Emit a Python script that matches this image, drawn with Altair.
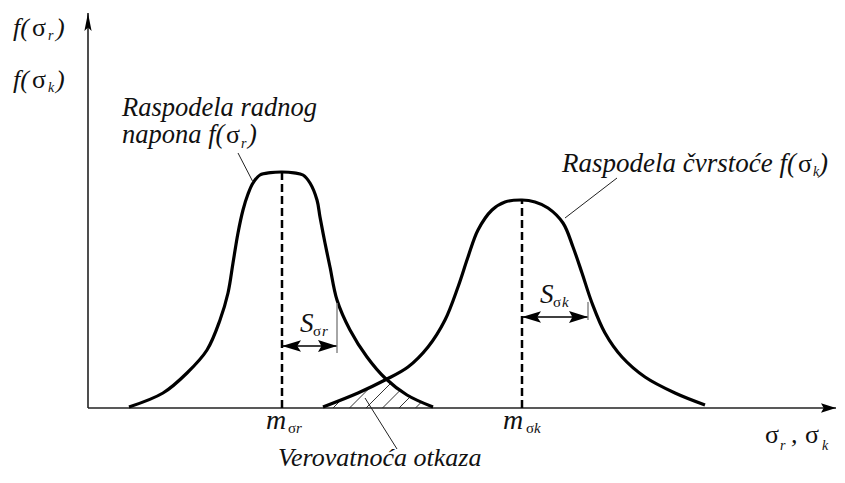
import altair as alt
import pandas as pd
import numpy as np

# ---------------- values (arbitrary units) ----------------
# working-stress distribution f(sigma_r)
load_x = [8.2, 15.0, 19.8, 23.8, 26.4, 28.0, 29.0, 30.0, 31.0, 32.0, 33.0, 34.4, 36.5, 38.8,
          41.2, 43.0, 44.4, 45.8, 46.4, 47.4, 48.4, 49.8, 52.4, 55.8, 59.4, 63.8, 69.0]
load_y = [0.5, 7.5, 17.5, 29.0, 44.0, 57.5, 72.5, 87.5, 99.0, 107.0, 112.5, 116.5, 117.7, 118.0,
          117.6, 116.5, 112.5, 104.0, 95.5, 82.5, 70.5, 54.0, 39.0, 25.5, 15.0, 6.5, 0.5]
# strength distribution f(sigma_k)
strength_x = [47.0, 54.0, 59.4, 64.0, 68.0, 71.4, 74.0, 76.0, 78.0, 80.8, 83.4, 86.8,
              89.4, 92.0, 95.0, 97.0, 98.8, 100.8, 103.4, 106.8, 111.4, 117.4, 123.4]
strength_y = [0.5, 7.5, 14.0, 20.5, 30.5, 44.0, 60.5, 75.5, 89.0, 99.0, 103.0, 104.0,
              103.0, 100.0, 92.5, 80.5, 67.5, 52.5, 37.5, 25.5, 15.5, 7.5, 1.5]

mean_r, peak_r, sd_r = 38.8, 118.0, 11.0
mean_k, peak_k, sd_k = 86.8, 104.0, 13.2
sd_r_level, sd_k_level = 31.0, 45.5

x_dom, y_dom = 149.8, 200.0
x_end, y_end = 149.6, 197.5

# ---------------- tables ----------------
curves = pd.DataFrame({
    "x": load_x + strength_x,
    "y": load_y + strength_y,
    "c": ["r"] * len(load_x) + ["k"] * len(strength_x),
})


def envelope(x):
    a = np.interp(x, load_x, load_y, left=0, right=0)
    b = np.interp(x, strength_x, strength_y, left=0, right=0)
    return np.minimum(a, b)


hatch = []
for x0 in np.arange(49.0, 69.0, 3.3):
    xs = np.linspace(x0, 72, 4000)
    gap = envelope(xs) - 2.5 * (xs - x0)
    i = int(np.argmax(gap <= 0))
    if i > 0:
        hatch.append({"x": x0, "y": 0.0, "x2": xs[i], "y2": 2.5 * (xs[i] - x0)})
hatch = pd.DataFrame(hatch)

axes = pd.DataFrame({"x": [0, 0], "y": [0, 0], "x2": [x_end, 0], "y2": [0, y_end]})
dashes = pd.DataFrame({"x": [mean_r, mean_k], "y": [0, 0], "y2": [peak_r, peak_k]})
sd_shafts = pd.DataFrame({"x": [mean_r, mean_k], "x2": [mean_r + sd_r, mean_k + sd_k],
                          "y": [sd_r_level, sd_k_level]})
sd_ticks = pd.DataFrame({"x": [mean_r + sd_r, mean_k + sd_k],
                         "y": [27.5, 44.0], "y2": [52.5, 53.0]})
leaders = pd.DataFrame({"x": [30.0, 105.8, 55.4], "y": [127.5, 115.0, 5.0],
                        "x2": [33.0, 95.4, 61.8], "y2": [113.0, 95.0, -20.5]})

UP = "M0,0 L0.2,1 L0,0.8 L-0.2,1 Z"
RIGHT = "M0,0 L-1,-0.32 L-0.82,0 L-1,0.32 Z"
LEFT = "M0,0 L1,-0.3 L0.8,0 L1,0.3 Z"
arrows = pd.DataFrame({
    "x": [0, x_end, mean_r, mean_r + sd_r, mean_k, mean_k + sd_k],
    "y": [y_end, 0, sd_r_level, sd_r_level, sd_k_level, sd_k_level],
    "shape": [UP, RIGHT, LEFT, RIGHT, LEFT, RIGHT],
    "size": [1296, 900, 1444, 1444, 1444, 1444],
})

# text pieces: (text, x, y, size, italic)
pieces = [
    ("f(", -15.0, 186, 26, True), ("σ", -11.2, 186, 26, False), ("r", -8.0, 184, 14, True), (")", -6.4, 186, 26, True),
    ("f(", -15.0, 160, 26, True), ("σ", -11.2, 160, 26, False), ("k", -8.0, 158, 14, True), (")", -6.4, 160, 26, True),
    ("Raspodela radnog", 6.8, 146.0, 26.5, True),
    ("napona f(", 6.8, 132.5, 26.5, True), ("σ", 27.6, 132.5, 26, False), ("r", 30.6, 130, 14, True), (")", 32.0, 132.5, 26.5, True),
    ("Raspodela čvrstoće f(", 94.8, 118, 27, True), ("σ", 142.0, 118, 26, False), ("k", 145.0, 116, 14, True), (")", 146.2, 118, 27, True),
    ("m", 35.6, -10.5, 28, True), ("σ", 40.0, -12.5, 15, False), ("r", 41.6, -12.5, 15, True),
    ("m", 83.0, -10.5, 28, True), ("σ", 87.6, -12.5, 15, False), ("k", 89.2, -12.5, 15, True),
    ("S", 42.4, 38.0, 27, True), ("σ", 45.0, 36.0, 15, False), ("r", 46.8, 36.0, 15, True),
    ("S", 90.4, 52.5, 27, True), ("σ", 93.0, 50.5, 15, False), ("k", 94.8, 50.5, 15, True),
    ("σ", 135.4, -17.5, 26, False), ("r", 138.4, -21.0, 14, True), (",", 140.6, -17.5, 26, True),
    ("σ", 143.4, -17.5, 26, False), ("k", 146.8, -21.0, 14, True),
    ("Verovatnoća otkaza", 38.0, -29.0, 26, True),
]
labels = pd.DataFrame(pieces, columns=["t", "x", "y", "size", "italic"])

# ---------------- chart ----------------
xs = alt.Scale(domain=[0, x_dom], nice=False, zero=False)
ys = alt.Scale(domain=[0, y_dom], nice=False, zero=False)
X = lambda f="x": alt.X(f"{f}:Q", scale=xs, axis=None)
Y = lambda f="y": alt.Y(f"{f}:Q", scale=ys, axis=None)

axis_layer = alt.Chart(axes).mark_rule(color="#222", strokeWidth=1.6).encode(
    x=X(), y=Y(), x2="x2:Q", y2="y2:Q")
hatch_layer = alt.Chart(hatch).mark_rule(color="#333", strokeWidth=1).encode(
    x=X(), y=Y(), x2="x2:Q", y2="y2:Q")
dash_layer = alt.Chart(dashes).mark_rule(color="black", strokeWidth=2.5, strokeDash=[8, 4]).encode(
    x=X(), y=Y(), y2="y2:Q")
curve_layer = alt.Chart(curves).mark_line(color="black", strokeWidth=3.2, interpolate="catmull-rom").encode(
    x=X(), y=Y(), detail="c:N", order="x:Q")
shaft_layer = alt.Chart(sd_shafts).mark_rule(color="black", strokeWidth=1.5).encode(
    x=X(), x2="x2:Q", y=Y())
tick_layer = alt.Chart(sd_ticks).mark_rule(color="#888", strokeWidth=1.5).encode(
    x=X(), y=Y(), y2="y2:Q")
leader_layer = alt.Chart(leaders).mark_rule(color="#222", strokeWidth=1).encode(
    x=X(), y=Y(), x2="x2:Q", y2="y2:Q")
arrow_layer = alt.Chart(arrows).mark_point(filled=True, color="black", opacity=1, strokeWidth=0).encode(
    x=X(), y=Y(), shape=alt.Shape("shape:N", scale=None), size=alt.Size("size:Q", scale=None))

FONT = "Liberation Serif, Tinos, Times New Roman, DejaVu Serif, Noto Serif, serif"
text_common = dict(align="left", baseline="alphabetic", font=FONT, color="#111")
it_layer = alt.Chart(labels).transform_filter("datum.italic").mark_text(fontStyle="italic", **text_common).encode(
    x=X(), y=Y(), text="t:N", size=alt.Size("size:Q", scale=None))
up_layer = alt.Chart(labels).transform_filter("!datum.italic").mark_text(**text_common).encode(
    x=X(), y=Y(), text="t:N", size=alt.Size("size:Q", scale=None))

chart = alt.layer(
    hatch_layer, axis_layer, dash_layer, curve_layer, shaft_layer, tick_layer,
    leader_layer, arrow_layer, it_layer, up_layer
).properties(
    width=749, height=400,
    autosize=alt.AutoSizeParams(type="none"),
    padding={"left": 80, "top": 0, "right": 0, "bottom": 62},
    background="white",
).configure_view(stroke=None)

chart.save("out.html", embed_options={"renderer": "svg", "actions": False})
